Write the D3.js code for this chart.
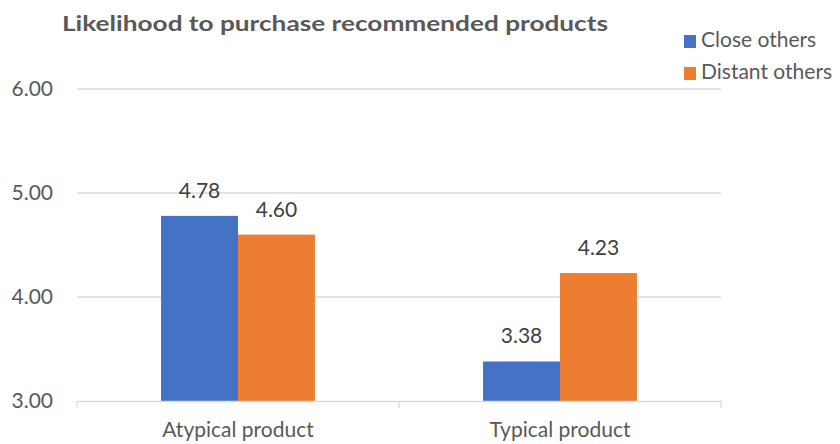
<!DOCTYPE html>
<html><head><meta charset="utf-8">
<script src="https://cdn.jsdelivr.net/npm/d3@7"></script>
<style>body{margin:0;background:#fff}svg{display:block}text{font-family:Lato,"Open Sans",sans-serif}</style>
</head><body>
<svg id="c" width="840" height="444"></svg>
<script>
const title = "Likelihood to purchase recommended products";
const categories = ["Atypical product", "Typical product"];
const seriesNames = ["Close others", "Distant others"];
const closeOthers = [4.78, 3.38];
const distantOthers = [4.60, 4.23];
const yTicks = [3, 4, 5, 6];
const colors = ["#4472C4", "#ED7D31"];

const svg = d3.select("#c");
const m = {left: 77, right: 119, top: 89, bottom: 43};
const W = 840, H = 444;
const FS = 21;
const x0 = d3.scaleBand().domain(categories).range([m.left, W - m.right]).paddingInner(0.522).paddingOuter(0.261);
const x1 = d3.scaleBand().domain(seriesNames).range([0, x0.bandwidth()]);
const y = d3.scaleLinear().domain([3, 6]).range([H - m.bottom, m.top]);

// gridlines
svg.append("g").selectAll("line").data(yTicks.slice(1)).join("line")
  .attr("x1", m.left).attr("x2", W - m.right)
  .attr("y1", d => y(d)).attr("y2", d => y(d))
  .attr("stroke", "#D9D9D9").attr("stroke-width", 1.3);

// y labels
const yAxis = d3.axisLeft(y).tickValues(yTicks).tickFormat(d3.format(".2f")).tickSize(0).tickPadding(24);
const ya = svg.append("g").attr("transform", `translate(${m.left},0)`).call(yAxis);
ya.select(".domain").remove();
ya.selectAll("text").attr("font-size", FS).attr("fill", "#595959").attr("font-family", "Lato, sans-serif");

// bars
const data = categories.map((c, i) => ({cat: c, vals: [closeOthers[i], distantOthers[i]]}));
const g = svg.append("g").selectAll("g").data(data).join("g")
  .attr("transform", d => `translate(${x0(d.cat)},0)`);
g.selectAll("rect").data(d => d.vals.map((v, j) => ({s: seriesNames[j], v, j}))).join("rect")
  .attr("x", d => x1(d.s)).attr("width", x1.bandwidth())
  .attr("y", d => y(d.v)).attr("height", d => y(3) - y(d.v))
  .attr("fill", d => colors[d.j]);
g.selectAll("text.lbl").data(d => d.vals.map((v, j) => ({s: seriesNames[j], v, j}))).join("text")
  .attr("class", "lbl")
  .attr("x", d => x1(d.s) + x1.bandwidth() / 2).attr("y", d => y(d.v) - 18)
  .attr("text-anchor", "middle").attr("font-size", FS).attr("fill", "#404040")
  .text(d => d3.format(".2f")(d.v));

// x axis
const xAxis = d3.axisBottom(x0).tickSize(0).tickPadding(21);
const xa = svg.append("g").attr("transform", `translate(0,${y(3)})`).call(xAxis);
xa.select(".domain").attr("stroke", "#D9D9D9").attr("stroke-width", 1.3);
xa.selectAll("text").attr("font-size", FS).attr("fill", "#595959").attr("font-family", "Lato, sans-serif");
// category separator ticks
const sepX = [m.left, (x0(categories[0]) + x0.bandwidth() + x0(categories[1])) / 2, W - m.right];
svg.append("g").selectAll("line").data(sepX).join("line")
  .attr("x1", d => d).attr("x2", d => d).attr("y1", y(3)).attr("y2", y(3) + 7)
  .attr("stroke", "#D9D9D9").attr("stroke-width", 1.3);

// title
svg.append("text").attr("x", 62).attr("y", 31).attr("font-size", 21).attr("font-weight", "bold")
  .attr("fill", "#595959").attr("textLength", 546).attr("lengthAdjust", "spacingAndGlyphs").text(title);

// legend
const lg = svg.append("g").selectAll("g").data(seriesNames).join("g")
  .attr("transform", (d, i) => `translate(684,${35 + i * 32})`);
lg.append("rect").attr("width", 12).attr("height", 13).attr("fill", (d, i) => colors[i]);
lg.append("text").attr("x", 17).attr("y", 12).attr("font-size", FS).attr("fill", "#595959").text(d => d);
</script>
</body></html>
